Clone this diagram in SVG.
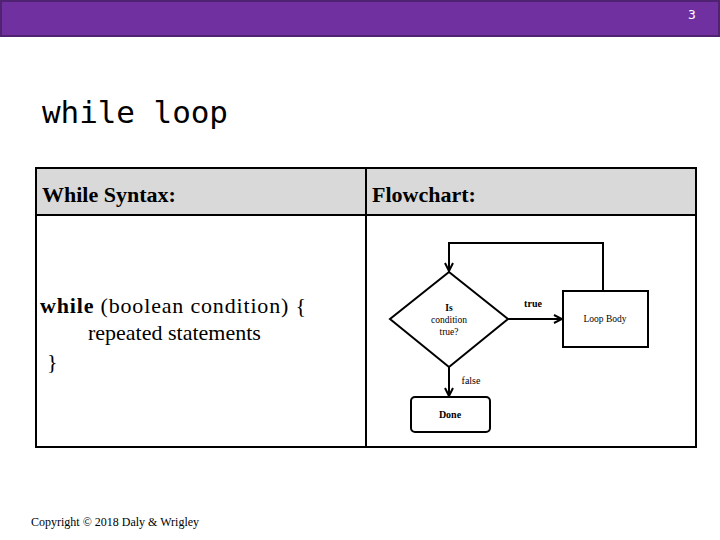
<svg xmlns="http://www.w3.org/2000/svg" width="720" height="540" viewBox="0 0 720 540">
<style>
.s{font-family:"Liberation Serif",serif;fill:#000}
.fc{fill:#fff;stroke:#000;stroke-width:2}
.ln{stroke:#000;stroke-width:2;fill:none}
</style>
<defs><marker id="a" markerWidth="10" markerHeight="10" refX="9" refY="5" orient="auto" markerUnits="userSpaceOnUse"><path d="M1,1 L9,5 L1,9" fill="none" stroke="#000" stroke-width="2"/></marker></defs>
<rect width="720" height="540" fill="#fff"/>
<rect x="1" y="1" width="718" height="35" fill="#7030a0" stroke="#4f2272" stroke-width="2"/>
<text x="692" y="19" font-family="DejaVu Sans Mono,monospace" font-size="13" fill="#fff" text-anchor="middle">3</text>
<text x="42" y="123" font-family="DejaVu Sans Mono,monospace" font-size="31" fill="#000" textLength="186">while loop</text>
<g id="table">
<rect x="36" y="168" width="660" height="47" fill="#d9d9d9"/>
<rect x="36" y="168" width="660" height="279" fill="none" stroke="#000" stroke-width="2"/>
<line x1="36" y1="215" x2="696" y2="215" stroke="#000" stroke-width="2"/>
<line x1="366" y1="168" x2="366" y2="447" stroke="#000" stroke-width="2"/>
<text class="s" x="42" y="202" font-size="22" font-weight="bold">While Syntax:</text>
<text class="s" x="372" y="202" font-size="22" font-weight="bold">Flowchart:</text>
<text class="s" x="40" y="313" font-size="22" textLength="266"><tspan font-weight="bold">while</tspan> (boolean condition) {</text>
<text class="s" x="88" y="340" font-size="22">repeated statements</text>
<text class="s" x="47" y="369" font-size="22">}</text>
</g>
<g id="connectors">
<path class="ln" d="M603,291 V243 H449 V271" marker-end="url(#a)"/>
<path class="ln" d="M508,319 H562" marker-end="url(#a)"/>
<path class="ln" d="M449,367 V396" marker-end="url(#a)"/>
<text class="s" x="533" y="307" font-size="10" font-weight="bold" text-anchor="middle">true</text>
<text class="s" x="471" y="384" font-size="10" text-anchor="middle">false</text>
</g>
<g id="cond"><path class="fc" d="M449,272 L508,319 L449,367 L390,319 Z"/>
<text class="s" x="449" y="311" font-size="9.5" font-weight="bold" text-anchor="middle">Is</text>
<text class="s" x="449" y="323" font-size="9.5" text-anchor="middle">condition</text>
<text class="s" x="449" y="335" font-size="9.5" text-anchor="middle">true?</text></g>
<g id="body"><rect class="fc" x="563" y="291" width="85" height="56"/>
<text class="s" x="605" y="322" font-size="9.5" text-anchor="middle">Loop Body</text></g>
<g id="done"><rect class="fc" x="411" y="397" width="79" height="35" rx="4"/>
<text class="s" x="450" y="418" font-size="10" font-weight="bold" text-anchor="middle">Done</text></g>
<text class="s" x="31" y="526" font-size="12">Copyright © 2018 Daly &amp; Wrigley</text>
</svg>
